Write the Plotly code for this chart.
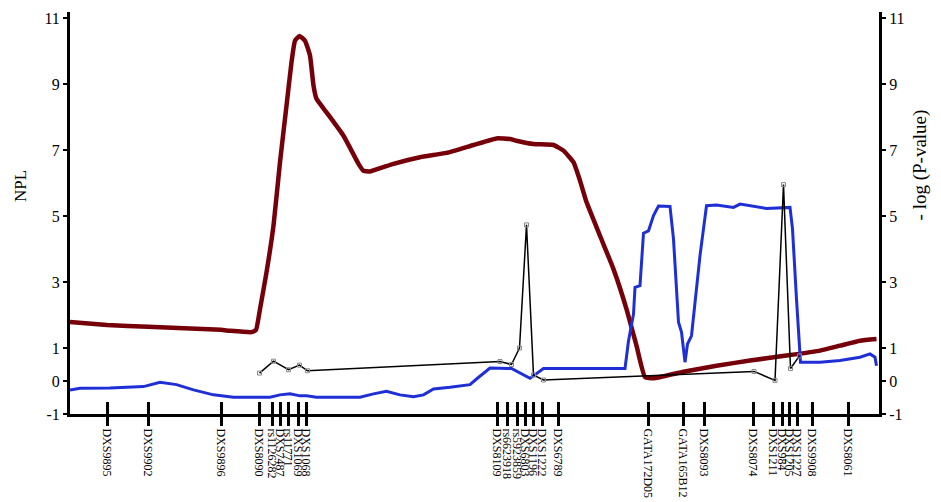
import plotly.graph_objects as go

# Marker map (position in cM)
marker_names = ["DXS9895", "DXS9902", "DXS9896", "DXS8090", "rs1126282", "DXS7487",
                "rs11771", "DXS1069", "DXS1068", "DXS8109", "rs6623918", "rs5923859",
                "DXS6803", "DXS1196", "DXS1222", "DXS6789", "GATA172D05", "GATA165B12",
                "DXS8093", "DXS8074", "DXS1211", "DXS984", "DXS1205", "DXS1227",
                "DXS9908", "DXS8061"]
marker_pos = [7.4, 15.6, 30.2, 37.8, 40.4, 42.0, 43.6, 45.6, 47.2, 85.4, 87.4, 89.4,
              91.0, 92.6, 94.4, 97.6, 115.6, 122.6, 126.8, 136.6, 140.6, 142.4, 143.8,
              145.4, 148.4, 155.6]

# NPL curve (left axis)
npl_pos = [0, 7.4, 15.6, 30.2, 32, 36.3, 37.2, 38, 39.3, 40.7, 42, 43.3, 44.3, 45, 45.9,
           47, 48, 48.7, 49.3, 51.3, 54.7, 57.7, 58.7, 60, 64.7, 70, 75.3, 80.7, 85.3,
           88, 89.3, 92.7, 96.7, 98.7, 100.7, 102, 103.3, 106, 108.7, 111.3, 113.3, 115,
           116.7, 122.7, 129.3, 136, 143.3, 150, 154, 158, 161.3]
npl_val = [1.79, 1.70, 1.64, 1.55, 1.52, 1.48, 1.55, 2.18, 3.29, 4.71, 6.63, 8.34, 9.66,
           10.31, 10.45, 10.31, 9.86, 8.95, 8.55, 8.14, 7.43, 6.58, 6.37, 6.35, 6.58,
           6.78, 6.91, 7.15, 7.35, 7.33, 7.28, 7.18, 7.15, 6.98, 6.63, 6.07, 5.42, 4.40,
           3.39, 2.18, 1.07, 0.12, 0.08, 0.28, 0.46, 0.62, 0.77, 0.92, 1.07, 1.22, 1.27]

# Blue curve (right axis)
blue_pos = [0, 2, 8, 14.7, 18, 21.3, 24.7, 28.7, 32.7, 40, 42, 44, 46, 47.3, 49.3, 58,
            60.7, 63.3, 66, 68.7, 70.7, 72.7, 76, 78, 80, 81.3, 84, 87.7, 88.3, 92, 94.7,
            111, 111.7, 112.7, 113, 114, 114.7, 115.7, 116.7, 117.7, 120, 120.7, 121.7,
            122.3, 123, 123.5, 124.3, 126, 127.3, 129.3, 132.7, 134, 136.7, 139.3, 144,
            144.5, 145.3, 146, 146.1, 150, 154, 158, 160, 161, 161.3]
blue_val = [-0.27, -0.22, -0.21, -0.17, -0.04, -0.11, -0.27, -0.42, -0.49, -0.49, -0.42,
            -0.39, -0.45, -0.45, -0.49, -0.49, -0.39, -0.31, -0.42, -0.48, -0.42, -0.24,
            -0.19, -0.14, -0.11, 0.06, 0.39, 0.38, 0.38, 0.08, 0.38, 0.38, 1.21, 2.03,
            2.84, 2.89, 4.48, 4.55, 5.01, 5.30, 5.29, 4.30, 1.78, 1.48, 0.57, 1.12, 1.37,
            3.80, 5.31, 5.33, 5.26, 5.36, 5.29, 5.23, 5.26, 4.61, 2.48, 0.77, 0.57, 0.57,
            0.62, 0.72, 0.82, 0.72, 0.46]

# -log(P-value) points (right axis)
pv_pos = [37.9, 40.7, 43.7, 45.9, 47.5, 86, 88.3, 89.9, 91.3, 92.7, 94.7, 136.8, 141,
          142.7, 144.1, 145.9]
pv_val = [0.24, 0.60, 0.34, 0.48, 0.31, 0.59, 0.50, 1.00, 4.73, 0.18, 0.03, 0.29, 0.02,
          5.95, 0.38, 0.76]

y_ticks = [-1, 0, 1, 3, 5, 7, 9, 11]
y_tick_text = ["-1", "0", "1", "3", "5", "7", "9", "11"]

FONT = "Liberation Serif"

fig = go.Figure()
fig.add_trace(go.Scatter(x=npl_pos, y=npl_val, mode="lines", yaxis="y",
                         line=dict(color="#76000a", width=4.5, shape="spline", smoothing=0.4),
                         showlegend=False, hoverinfo="skip"))
fig.add_trace(go.Scatter(x=blue_pos, y=blue_val, mode="lines", yaxis="y2",
                         line=dict(color="#1f2fd6", width=3),
                         showlegend=False, hoverinfo="skip"))
fig.add_trace(go.Scatter(x=pv_pos, y=pv_val, mode="lines+markers", yaxis="y2",
                         line=dict(color="black", width=1.5),
                         marker=dict(symbol="square-open", size=4, color="#888888",
                                     line=dict(width=1)),
                         showlegend=False, hoverinfo="skip"))
# carrier trace for the inner marker ticks axis
fig.add_trace(go.Scatter(x=marker_pos, y=[None] * len(marker_pos), xaxis="x2", yaxis="y",
                         mode="markers", showlegend=False, hoverinfo="skip"))

yr = [-1, 11.18]
fig.update_layout(
    width=933, height=494,
    margin=dict(l=62, r=62, t=4, b=88, autoexpand=False),
    paper_bgcolor="white", plot_bgcolor="white",
    font=dict(family=FONT, color="black"),
    xaxis=dict(range=[0, 161.8], showgrid=False, zeroline=False, automargin=False,
               showline=True, linewidth=3, linecolor="black",
               tickmode="array", tickvals=marker_pos, ticktext=marker_names,
               ticks="outside", ticklen=9, tickwidth=3, tickcolor="black",
               tickangle=90, tickfont=dict(family=FONT, size=12, color="black")),
    xaxis2=dict(range=[0, 161.8], overlaying="x", anchor="y", side="bottom",
                matches="x", showgrid=False, zeroline=False, showline=False,
                automargin=False,
                tickmode="array", tickvals=marker_pos, showticklabels=False,
                ticks="inside", ticklen=12, tickwidth=3, tickcolor="black"),
    yaxis=dict(range=yr, showgrid=False, zeroline=False, automargin=False,
               showline=True, linewidth=3, linecolor="black",
               tickmode="array", tickvals=y_ticks, ticktext=y_tick_text,
               ticks="outside", ticklen=4, tickwidth=1.5, tickcolor="black",
               tickfont=dict(family=FONT, size=16, color="black")),
    yaxis2=dict(range=yr, overlaying="y", side="right", anchor="x",
                showgrid=False, zeroline=False, automargin=False,
                showline=True, linewidth=3, linecolor="black",
                tickmode="array", tickvals=y_ticks, ticktext=y_tick_text,
                ticks="outside", ticklen=4, tickwidth=1.5, tickcolor="black",
                tickfont=dict(family=FONT, size=16, color="black")),
    annotations=[
        dict(text="NPL", xref="paper", yref="paper", x=-0.0618, y=0.567,
             textangle=-90, showarrow=False, xanchor="center", yanchor="middle",
             font=dict(family=FONT, size=17, color="black")),
        dict(text="- log (P-value)", xref="paper", yref="paper", x=1.051, y=0.619,
             textangle=-90, showarrow=False, xanchor="center", yanchor="middle",
             font=dict(family=FONT, size=19, color="black")),
    ],
)

fig.write_html("out.html")
